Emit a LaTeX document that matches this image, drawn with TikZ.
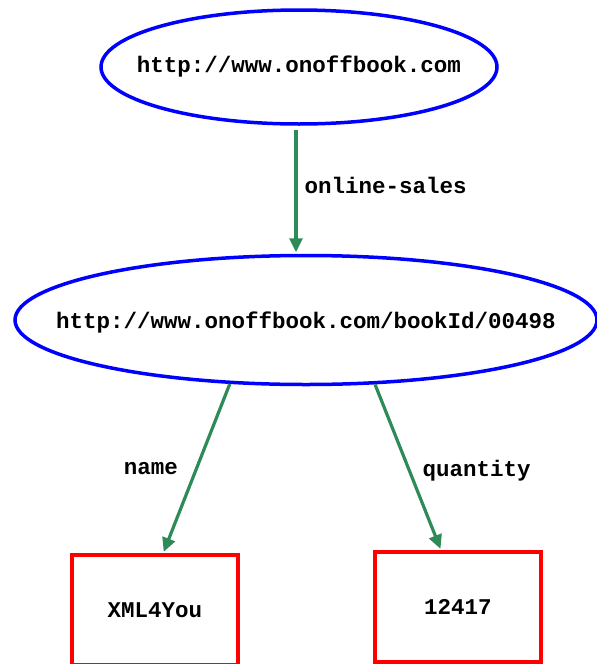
\documentclass[tikz,border=0pt]{standalone}
\usepackage{fontspec}
\setmonofont{Liberation Mono}
\usetikzlibrary{shapes.geometric,arrows.meta,calc}

\tikzset{
  labelfont/.style={font=\ttfamily\bfseries\fontsize{22.5}{27}\selectfont},
  resource/.style={ellipse, draw=blue, line width=3.5pt, inner sep=0pt},
  literal/.style={rectangle, draw=red, line width=3.5pt, inner sep=0pt,
    minimum width=166pt, minimum height=110pt, labelfont},
  prop/.style={draw={rgb,255:red,46;green,139;blue,87}, line width=3.2pt,
    -{Triangle[length=14pt,width=13pt]}, shorten >=1.5pt},
  proplabel/.style={labelfont, text=black, inner sep=0pt}
}

\begin{document}
\begin{tikzpicture}[x=1pt,y=-1pt]
  \useasboundingbox (0,0) rectangle (597,664);
  \clip (0,0) rectangle (597,664);

  % subject and object resources (text set as centred labels so the
  % ellipse keeps its own size)
  \node[resource, minimum width=396pt, minimum height=114pt,
    label={[labelfont, inner sep=0pt]center:http://www.onoffbook.com}]
    (site) at (299,67) {};
  \node[resource, minimum width=582pt, minimum height=129pt,
    label={[labelfont, inner sep=0pt, yshift=-3pt]center:http://www.onoffbook.com/bookId/00498}]
    (book) at (306,320) {};

  % literal values
  \node[literal] (title) at (155,610) {XML4You};
  \node[literal] (qty) at (458,607) {12417};

  % properties
  \coordinate (siteout) at ($(site.south)+(-3,4)$);
  \draw[prop] (siteout) -- (siteout |- book.north)
    node[proplabel, midway, right=7pt, yshift=6pt] {online-sales};

  \draw[prop] (book.220) -- ($(title.north west)!0.548!(title.north east)$)
    node[proplabel, midway, left=17pt] {name};
  \draw[prop] (book.317) -- ($(qty.north west)!0.4!(qty.north east)$)
    node[proplabel, midway, right=13pt, yshift=-3pt] {quantity};
\end{tikzpicture}
\end{document}
